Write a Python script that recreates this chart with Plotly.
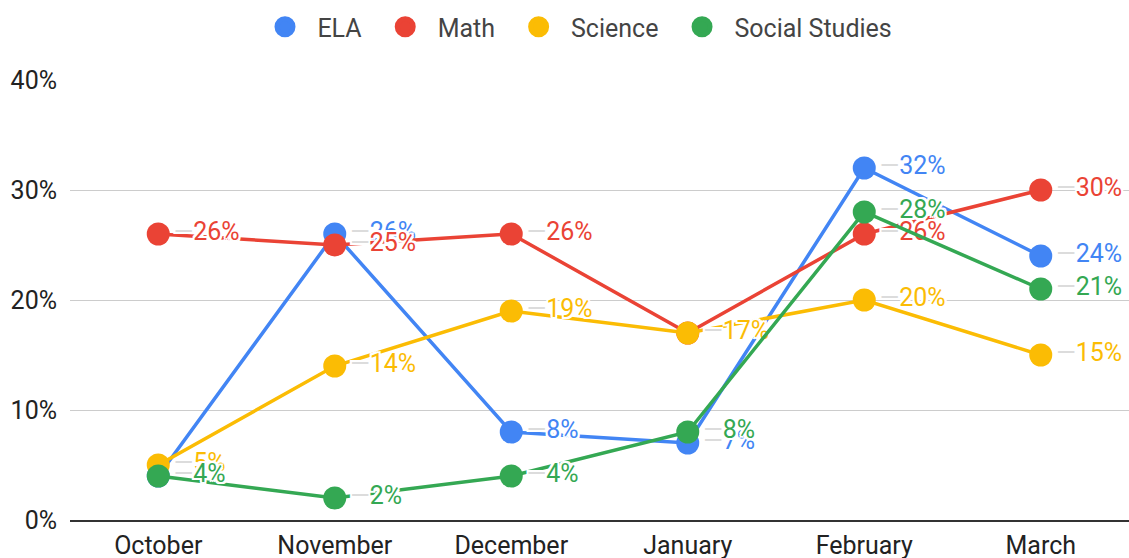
import plotly.graph_objects as go

months = ["October", "November", "December", "January", "February", "March"]
series_names = ["ELA", "Math", "Science", "Social Studies"]
ela = [4, 26, 8, 7, 32, 24]
math = [26, 25, 26, 17, 26, 30]
science = [5, 14, 19, 17, 20, 15]
social = [4, 2, 4, 8, 28, 21]
colors = ["#4285F4", "#EA4335", "#FBBC04", "#34A853"]
y_ticks = [0, 10, 20, 30, 40]
y_tick_labels = ["0%", "10%", "20%", "30%", "40%"]

FONT = "Roboto, Arial, sans-serif"
FS = 25
NB = "\u00a0"
fig = go.Figure()
halo = ("2px 0 0 white, -2px 0 0 white, 0 2px 0 white, 0 -2px 0 white, "
        "2px 2px 0 white, -2px -2px 0 white, 2px -2px 0 white, -2px 2px 0 white")

for name, vals, col in zip(series_names, [ela, math, science, social], colors):
    labels = ["<span style='color:#dcdcdc'>\u2014</span>" + f"{v}%" for v in vals]
    fig.add_trace(go.Scatter(
        x=months, y=vals, name=name, mode="lines+markers+text",
        line=dict(color=col, width=3.5),
        marker=dict(color=col, size=23),
        text=labels, textposition="middle right",
        textfont=dict(color=col, size=FS, family=FONT, shadow=halo),
        showlegend=False, legendgroup=name, cliponaxis=False,
        hoverinfo="skip",
    ))
    fig.add_trace(go.Scatter(
        x=[None], y=[None], name=NB * 2 + name + NB * 3, mode="markers",
        marker=dict(color=col, size=16, line=dict(color=col, width=5)),
        legendgroup=name, showlegend=True,
    ))

fig.update_layout(
    width=1129, height=558,
    margin=dict(l=70, r=0, t=80, b=38, autoexpand=False),
    paper_bgcolor="white", plot_bgcolor="white",
    font=dict(family=FONT, size=FS, color="#444"),
    legend=dict(orientation="h", x=0.5 - 9 / 1059, xanchor="center",
                y=1 + 53 / 440, yanchor="middle",
                font=dict(size=FS, color="#444"),
                itemwidth=30, traceorder="normal"),
    showlegend=True,
)
fig.update_xaxes(showgrid=False, showline=True, linecolor="#333", linewidth=1.5,
                 ticks="", tickfont=dict(size=FS, color="#222"), ticklabelstandoff=2,
                 range=[-0.5, 5.5], fixedrange=True)
fig.update_yaxes(range=[0, 40], tickvals=y_ticks, ticktext=y_tick_labels,
                 showgrid=True, gridcolor="#cccccc", gridwidth=1, zeroline=False,
                 tickfont=dict(size=FS, color="#222"), ticklabelstandoff=12,
                 showline=False, fixedrange=True)
fig.write_html("out.html", config={"displayModeBar": False},
               post_script="document.body.style.margin='0';")
